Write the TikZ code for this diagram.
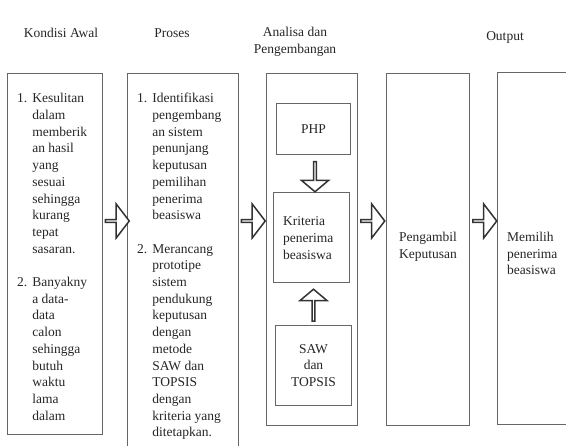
\documentclass[tikz,border=0pt]{standalone}
\usepackage{fontspec}
\setmainfont{Liberation Serif}
\usetikzlibrary{shapes.arrows,calc}
\begin{document}
\begin{tikzpicture}[x=1pt,y=-1pt,
  box/.style={draw=black!60, line width=1pt, inner sep=0pt, anchor=north west},
  txt/.style={inner sep=0pt, font=\fontsize{13.5}{16.7}\selectfont, text=black!85},
  rarrow/.style={single arrow, draw=black!80, line width=1.5pt, fill=white,
    minimum width=34pt, minimum height=24pt, single arrow head extend=8.5pt,
    single arrow tip angle=105, inner sep=0pt, anchor=tail},
  varrow/.style={single arrow, draw=black!80, line width=1.5pt, fill=white,
    minimum width=27pt, single arrow head extend=7pt,
    single arrow tip angle=100, inner sep=0pt, anchor=tail}]
\clip (0,0) rectangle (566,446);
\fill[white] (0,0) rectangle (566,446);

% headers
\node[txt] (h1) at (61,33) {Kondisi Awal};
\node[txt] (h2) at (172,33) {Proses};
\node[txt, align=center] (h3) at (295,41.5) {Analisa dan\\Pengembangan};
\node[txt] (h4) at (505,37) {Output};

% columns
\node[box, minimum width=95pt, minimum height=361pt] (b1) at (7,73) {};
\node[box, minimum width=111pt, minimum height=390pt] (b2) at (127,73) {};
\node[box, minimum width=91pt, minimum height=352pt] (b3) at (266,73) {};
\node[box, minimum width=83pt, minimum height=352pt] (b4) at (386,73) {};
\node[box, minimum width=100pt, minimum height=352pt] (b5) at (497,72) {};

% inner boxes
\node[box, minimum width=74pt, minimum height=51pt] (php) at (276,103) {};
\node[box, minimum width=76pt, minimum height=90pt] (krit) at (273,192) {};
\node[box, minimum width=76pt, minimum height=80pt] (saw) at (275,325) {};

% texts
\node[txt, anchor=north west] (t1) at (17,91) {%
\begin{tabular}{@{}l@{\hspace{5pt}}l@{}}
1. & Kesulitan\\
   & dalam\\
   & memberik\\
   & an hasil\\
   & yang\\
   & sesuai\\
   & sehingga\\
   & kurang\\
   & tepat\\
   & sasaran.\\
   & \\
2. & Banyakny\\
   & a data-\\
   & data\\
   & calon\\
   & sehingga\\
   & butuh\\
   & waktu\\
   & lama\\
   & dalam
\end{tabular}};

\node[txt, anchor=north west] (t2) at (137,91) {%
\begin{tabular}{@{}l@{\hspace{5pt}}l@{}}
1. & Identifikasi\\
   & pengembang\\
   & an sistem\\
   & penunjang\\
   & keputusan\\
   & pemilihan\\
   & penerima\\
   & beasiswa\\
   & \\
2. & Merancang\\
   & prototipe\\
   & sistem\\
   & pendukung\\
   & keputusan\\
   & dengan\\
   & metode\\
   & SAW dan\\
   & TOPSIS\\
   & dengan\\
   & kriteria yang\\
   & ditetapkan.
\end{tabular}};

\node[txt] (tphp) at (php.center) {PHP};
\node[txt, align=left, anchor=west] (tkrit) at (283,238) {Kriteria\\penerima\\beasiswa};
\node[txt, align=center] (tsaw) at (saw.center) {SAW\\dan\\TOPSIS};
\node[txt, align=center] (t4) at (428,246.5) {Pengambil\\Keputusan};
\node[txt, align=left, anchor=west] (t5) at (507,253.5) {Memilih\\penerima\\beasiswa};

% block arrows
\coordinate (ay) at (0,221);
\node[rarrow] (a1) at ($(b1.east |- ay)+(1.5,0)$) {};
\node[rarrow] (a2) at ($(b2.east |- ay)+(1.5,0)$) {};
\node[rarrow] (a3) at ($(b3.east |- ay)+(2,0)$) {};
\node[rarrow] (a4) at ($(b4.east |- ay)+(2,0)$) {};
\node[varrow, minimum height=30pt, shape border rotate=270] (ad) at ($(php.south)+(1.5,6)$) {};
\node[varrow, minimum height=32pt, shape border rotate=90] (au) at ($(saw.north)+(0,-3)$) {};
\end{tikzpicture}
\end{document}
